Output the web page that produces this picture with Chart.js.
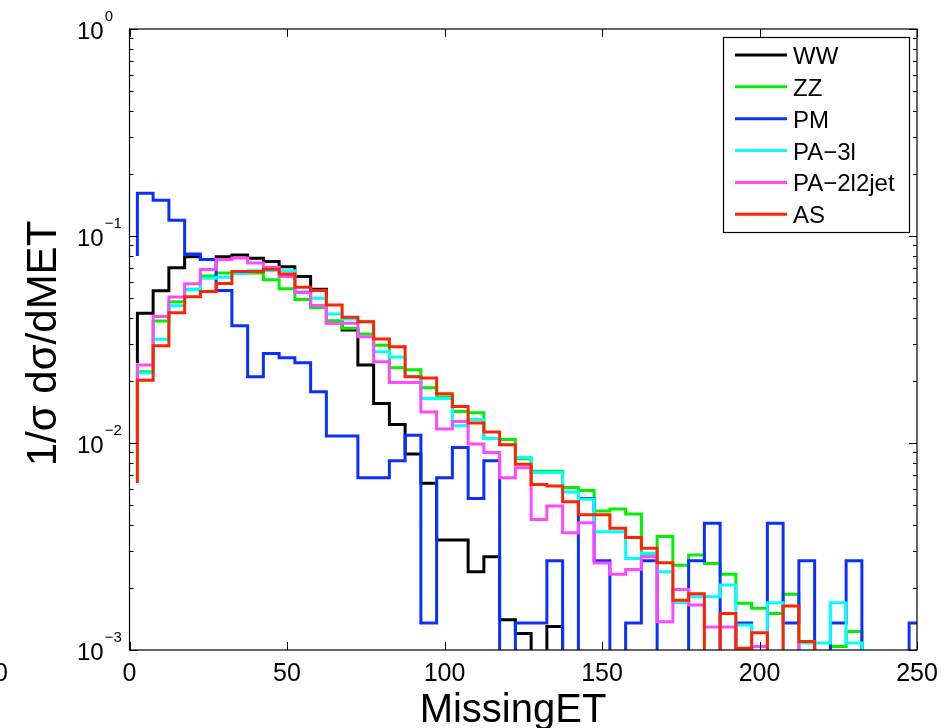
<!DOCTYPE html>
<html>
<head>
<meta charset="utf-8">
<script src="https://cdn.jsdelivr.net/npm/chart.js@4/dist/chart.umd.min.js"></script>
<style>
  html, body { margin: 0; padding: 0; background: #fff; }
  #wrap { width: 945px; height: 728px; position: relative; }
</style>
</head>
<body>
<div id="wrap"><canvas id="c" width="945" height="728"></canvas></div>
<script>
// Bin edges of the MissingET histogram (GeV); each value holds from its edge to the next one.
const binEdges = [2.5, 7.5, 12.5, 17.5, 22.5, 27.5, 32.5, 37.5, 42.5, 47.5,
  52.5, 57.5, 62.5, 67.5, 72.5, 77.5, 82.5, 87.5, 92.5, 97.5,
  102.5, 107.5, 112.5, 117.5, 122.5, 127.5, 132.5, 137.5, 142.5, 147.5,
  152.5, 157.5, 162.5, 167.5, 172.5, 177.5, 182.5, 187.5, 192.5, 197.5,
  202.5, 207.5, 212.5, 217.5, 222.5, 227.5, 232.5, 237.5, 242.5, 247.5, 252.5];

const seriesNames = ['WW', 'ZZ', 'PM', 'PA\u22123l', 'PA\u22122l2jet', 'AS'];
const seriesColors = ['#000000', '#00f000', '#0a30ff', '#00ffff', '#ff48ff', '#ff2400'];

// Level each curve starts from at the first edge
const startLevels = [0.0243, 0.009, 0.08, 0.008, 0.01, 0.0064];

// 1/sigma dsigma/dMET per 5 GeV bin (0 = empty bin)
const wwValues = [0.0423, 0.0544, 0.0703, 0.0794, 0.077, 0.0794, 0.0809, 0.078, 0.0754, 0.071,
  0.0638, 0.0553, 0.0381, 0.0351, 0.0238, 0.0155, 0.0123, 0.00885, 0.00639, 0.0034,
  0.0034, 0.00239, 0.00282, 0.0014, 0.0012, 0, 0.0013, 0, 0, 0,
  0, 0, 0, 0, 0, 0, 0, 0, 0, 0,
  0, 0, 0, 0, 0, 0, 0, 0, 0, 0];
const zzValues = [0.0221, 0.0388, 0.0481, 0.0553, 0.0641, 0.0662, 0.0662, 0.0662, 0.0615, 0.0556,
  0.0493, 0.045, 0.039, 0.0358, 0.0336, 0.0297, 0.0231, 0.0226, 0.0185, 0.0167,
  0.0142, 0.014, 0.0105, 0.0104, 0.0084, 0.0073, 0.0073, 0.0061, 0.0059, 0.0047,
  0.0048, 0.00454, 0.0029, 0.00353, 0.00257, 0.00288, 0.00262, 0.00232, 0.00168, 0.00159,
  0.0015, 0.00186, 0, 0, 0.00104, 0.00123, 0, 0, 0, 0];
const pmValues = [0.161, 0.149, 0.119, 0.0819, 0.077, 0.0545, 0.0368, 0.0209, 0.0271, 0.0258,
  0.0244, 0.0177, 0.0108, 0.0108, 0.0068, 0.0068, 0.0082, 0.0109, 0.00135, 0.0068,
  0.0095, 0.0054, 0.0082, 0, 0.00135, 0.00135, 0.0027, 0, 0.0054, 0.0027,
  0, 0.00135, 0.0027, 0, 0, 0.0027, 0.0041, 0, 0.00135, 0,
  0.0041, 0.00135, 0.0027, 0, 0.00135, 0.0027, 0, 0, 0, 0.00135];
const pa3lValues = [0.0218, 0.0317, 0.046, 0.055, 0.0625, 0.0632, 0.0658, 0.068, 0.068, 0.068,
  0.0538, 0.05, 0.042, 0.0397, 0.0387, 0.0276, 0.026, 0.021, 0.0164, 0.0164,
  0.0121, 0.013, 0.0105, 0.0098, 0.0085, 0.0072, 0.0072, 0.0058, 0.00535, 0.00373,
  0.00373, 0.00277, 0.00293, 0.00239, 0.00169, 0.00181, 0.00181, 0.00206, 0.00132, 0,
  0.00169, 0, 0.00108, 0.00108, 0.00169, 0.00108, 0, 0, 0, 0];
const pa2l2jetValues = [0.0238, 0.0408, 0.0508, 0.0588, 0.0688, 0.077, 0.0784, 0.074, 0.0706, 0.0637,
  0.0533, 0.0461, 0.0379, 0.0379, 0.0326, 0.0247, 0.0196, 0.0196, 0.0141, 0.0117,
  0.0127, 0.0099, 0.009, 0.0068, 0.0076, 0.00427, 0.00496, 0.00369, 0.00412, 0.00263,
  0.00232, 0.00245, 0.00282, 0.00137, 0.00196, 0.00165, 0.00129, 0.00129, 0, 0.00104,
  0, 0, 0.0011, 0, 0, 0, 0, 0, 0, 0];
const asValues = [0.0201, 0.0295, 0.0426, 0.0509, 0.054, 0.059, 0.0673, 0.0673, 0.069, 0.0656,
  0.0565, 0.0545, 0.0464, 0.0405, 0.0385, 0.0318, 0.0292, 0.0209, 0.0206, 0.0173,
  0.015, 0.0125, 0.0113, 0.0098, 0.0079, 0.0063, 0.0062, 0.0052, 0.0045, 0.0045,
  0.00387, 0.0035, 0.0031, 0.00264, 0.00174, 0.00187, 0, 0.0015, 0.00102, 0.00121,
  0, 0.00163, 0.0011, 0, 0, 0, 0, 0, 0, 0];

const xTicks = [0, 50, 100, 150, 200, 250];
const yExponents = [0, -1, -2, -3];

const FONT = "'Liberation Sans', Arial, Helvetica, sans-serif";
const allValues = [wwValues, zzValues, pmValues, pa3lValues, pa2l2jetValues, asValues];

// Empty bins fall off the bottom of the log axis
const EMPTY = 1e-5;
const lvl = v => (v > 0 ? v : EMPTY);

function stairPoints(start, values) {
  const pts = [{ x: binEdges[0], y: lvl(start) }];
  values.forEach((v, i) => pts.push({ x: binEdges[i], y: lvl(v) }));
  pts.push({ x: binEdges[values.length], y: lvl(values[values.length - 1]) });
  return pts;
}

const datasets = allValues.map((vals, i) => ({
  label: seriesNames[i],
  data: stairPoints(startLevels[i], vals),
  borderColor: seriesColors[i],
  backgroundColor: seriesColors[i],
  borderWidth: 3,
  stepped: 'before',
  pointRadius: 0,
  fill: false,
  order: allValues.length - i,
  borderJoinStyle: 'miter',
  borderCapStyle: 'butt'
}));

const axesDecor = {
  id: 'axesDecor',
  afterDatasetsDraw(chart) {
    const { ctx, chartArea: a, scales: { x, y } } = chart;
    ctx.save();
    ctx.strokeStyle = '#000';
    ctx.lineWidth = 1.2;
    ctx.strokeRect(a.left, a.top, a.right - a.left, a.bottom - a.top);

    ctx.lineWidth = 1;
    ctx.beginPath();
    xTicks.forEach(v => {
      const px = Math.round(x.getPixelForValue(v)) + 0.5;
      ctx.moveTo(px, a.bottom); ctx.lineTo(px, a.bottom - 8);
      ctx.moveTo(px, a.top); ctx.lineTo(px, a.top + 8);
    });
    yExponents.forEach(e => {
      const d = Math.pow(10, e);
      const py = Math.round(y.getPixelForValue(d)) + 0.5;
      ctx.moveTo(a.left, py); ctx.lineTo(a.left + 8, py);
      ctx.moveTo(a.right, py); ctx.lineTo(a.right - 8, py);
      if (e < 0) {
        for (let m = 2; m <= 9; m++) {
          const pm = Math.round(y.getPixelForValue(d * m)) + 0.5;
          ctx.moveTo(a.left, pm); ctx.lineTo(a.left + 4, pm);
          ctx.moveTo(a.right, pm); ctx.lineTo(a.right - 4, pm);
        }
      }
    });
    ctx.stroke();

    ctx.fillStyle = '#000';
    // x tick labels
    ctx.font = '25px ' + FONT;
    ctx.textAlign = 'center';
    ctx.textBaseline = 'alphabetic';
    xTicks.forEach(v => ctx.fillText(String(v), x.getPixelForValue(v), a.bottom + 31));
    // clipped label at the left edge
    ctx.textAlign = 'right';
    ctx.fillText('0', 8, a.bottom + 31);

    // y tick labels as powers of ten
    yExponents.forEach(e => {
      const py = y.getPixelForValue(Math.pow(10, e));
      ctx.font = '24px ' + FONT;
      ctx.textAlign = 'left';
      ctx.fillText('10', 77, py + 10);
      const w = ctx.measureText('10').width;
      ctx.font = '15px ' + FONT;
      ctx.fillText(e === 0 ? '0' : '\u2212' + (-e), 77 + w + 1, py - 8);
    });

    // axis titles
    ctx.font = '40px ' + FONT;
    ctx.textAlign = 'center';
    ctx.fillText('MissingET', 513, a.bottom + 72);
    ctx.save();
    ctx.font = '42px ' + FONT;
    ctx.translate(56, 343.5);
    ctx.rotate(-Math.PI / 2);
    ctx.fillText('1/\u03c3 d\u03c3/dMET', 0, 0);
    ctx.restore();

    // legend
    const lx = 723.5, ly = 37.5, lw = 186, lh = 195;
    ctx.fillStyle = '#fff';
    ctx.fillRect(lx, ly, lw, lh);
    ctx.lineWidth = 1.2;
    ctx.strokeStyle = '#000';
    ctx.strokeRect(lx, ly, lw, lh);
    ctx.font = '24px ' + FONT;
    ctx.textAlign = 'left';
    chart.data.datasets.forEach((ds, i) => {
      const cy = 55 + i * 31.86;
      ctx.strokeStyle = ds.borderColor;
      ctx.lineWidth = 3;
      ctx.beginPath();
      ctx.moveTo(735, cy); ctx.lineTo(787, cy);
      ctx.stroke();
      ctx.fillStyle = '#000';
      ctx.fillText(ds.label, 793, cy + 9);
    });
    ctx.restore();
  }
};

new Chart(document.getElementById('c'), {
  type: 'line',
  data: { datasets },
  options: {
    responsive: false,
    animation: false,
    devicePixelRatio: 1,
    layout: { padding: { left: 0, right: 28, top: 29, bottom: 0 } },
    plugins: { legend: { display: false }, tooltip: { enabled: false } },
    scales: {
      x: {
        type: 'linear', min: 0, max: 250,
        ticks: { display: false, stepSize: 50 },
        grid: { display: false, drawTicks: false },
        border: { display: false },
        afterFit: s => { s.height = 78; }
      },
      y: {
        type: 'logarithmic', min: 1e-3, max: 1,
        ticks: { display: false },
        grid: { display: false, drawTicks: false },
        border: { display: false },
        afterFit: s => { s.width = 129.5; }
      }
    }
  },
  plugins: [axesDecor]
});
</script>
</body>
</html>
